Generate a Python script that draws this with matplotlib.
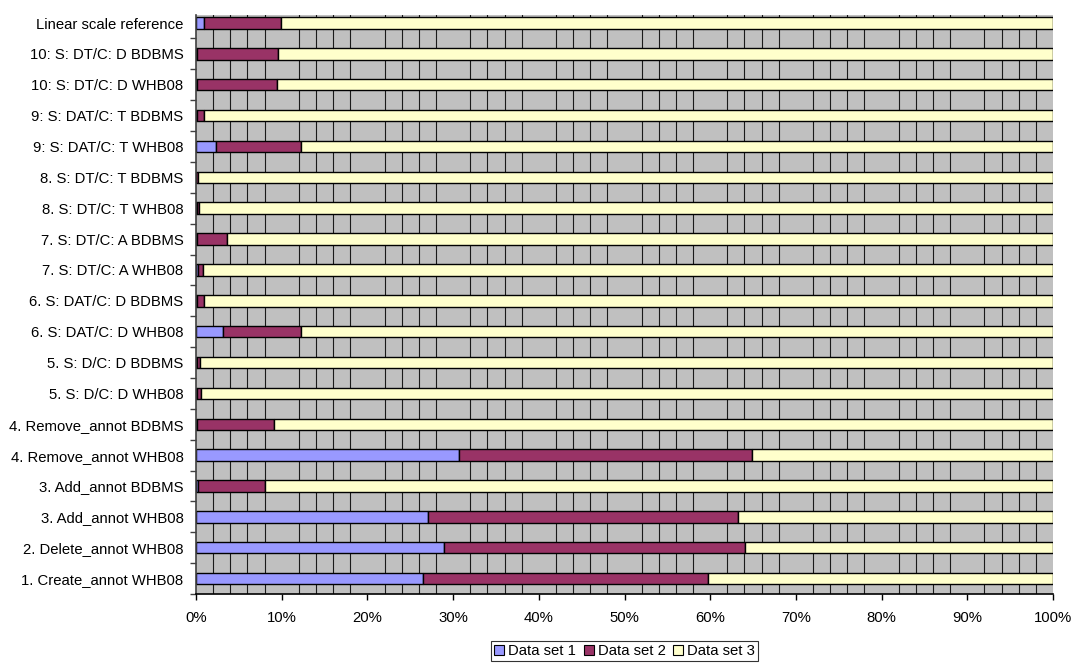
import matplotlib
matplotlib.use("Agg")
import matplotlib.pyplot as plt
import numpy as np
from matplotlib.patches import Patch

categories = [
    "1. Create_annot WHB08",
    "2. Delete_annot WHB08",
    "3. Add_annot WHB08",
    "3. Add_annot BDBMS",
    "4. Remove_annot WHB08",
    "4. Remove_annot BDBMS",
    "5. S: D/C: D WHB08",
    "5. S: D/C: D BDBMS",
    "6. S: DAT/C: D WHB08",
    "6. S: DAT/C: D BDBMS",
    "7. S: DT/C: A WHB08",
    "7. S: DT/C: A BDBMS",
    "8. S: DT/C: T WHB08",
    "8. S: DT/C: T BDBMS",
    "9: S: DAT/C: T WHB08",
    "9: S: DAT/C: T BDBMS",
    "10: S: DT/C: D WHB08",
    "10: S: DT/C: D BDBMS",
    "Linear scale reference",
]
data_set_1 = [26.5, 28.9, 27.1, 0.2, 30.7, 0.15, 0.1, 0.1, 3.2, 0.1, 0.27, 0.1, 0.1, 0.05, 2.3, 0.1, 0.1, 0.1, 1]
data_set_2 = [33.2, 35.2, 36.2, 7.85, 34.2, 8.95, 0.52, 0.4, 9.0, 0.87, 0.58, 3.55, 0.3, 0.22, 9.9, 0.83, 9.4, 9.5, 10]
data_set_3 = [40.3, 35.9, 36.7, 91.95, 35.1, 90.9, 99.38, 99.5, 87.8, 99.03, 99.15, 96.35, 99.6, 99.73, 87.8, 99.07, 90.5, 90.4, 100]
series_names = ["Data set 1", "Data set 2", "Data set 3"]
colors = ["#9999FF", "#993366", "#FFFFCC"]
x_ticks = [0, 10, 20, 30, 40, 50, 60, 70, 80, 90, 100]

plt.rcParams['font.family'] = ['Liberation Sans', 'DejaVu Sans']
FS = 10.7
plt.rcParams['font.size'] = FS

fig = plt.figure(figsize=(10.74, 6.64), dpi=100)
ax = fig.add_axes([196/1074, 1-594/664, (1053-196)/1074, (594-15)/664])
ax.set_facecolor("#C0C0C0")

vals = np.array([data_set_1, data_set_2, data_set_3], dtype=float)
vals = vals / vals.sum(axis=0) * 100
y = np.arange(len(categories))
left = np.zeros(len(categories))
for i in range(3):
    ax.barh(y, vals[i], left=left, height=0.37, color=colors[i],
            edgecolor="black", linewidth=1.0, zorder=3)
    left += vals[i]

ax.set_xlim(0, 100)
ax.set_ylim(-0.5, 18.26)

# vertical gridlines every 2%
ax.set_xticks(np.arange(0, 101, 2), minor=True)
ax.xaxis.grid(True, which='minor', color='#1a1a1a', linewidth=0.8, zorder=1)
ax.set_axisbelow(True)
ax.tick_params(axis='x', which='minor', length=0)

ax.set_xticks(x_ticks)
ax.set_xticklabels([f"{t}%" for t in x_ticks])
ax.tick_params(axis='x', which='major', direction='out', length=4, width=1,
               color='black', pad=8.5, labelsize=FS)

ax.set_yticks(y)
ax.set_yticklabels(categories)
ax.tick_params(axis='y', which='major', length=0, pad=9, labelsize=FS)
ax.set_yticks(np.arange(-0.5, 18.0, 1), minor=True)
ax.tick_params(axis='y', which='minor', direction='out', length=4, width=1, color='#404040')

for s in ['top', 'right']:
    ax.spines[s].set_visible(False)
ax.spines['left'].set_color('#404040')
ax.spines['left'].set_linewidth(1.2)
ax.spines['bottom'].set_color('black')
ax.spines['bottom'].set_linewidth(1.2)
ax.spines['left'].set_zorder(4)
ax.spines['bottom'].set_zorder(4)

handles = [Patch(facecolor=c, edgecolor='black', linewidth=0.8) for c in colors]
leg = fig.legend(handles, series_names, loc='center', bbox_to_anchor=(624.5/1074, 1-651/664),
                 ncol=3, frameon=True, fancybox=False, edgecolor='black',
                 handlelength=0.7, handleheight=0.7, handletextpad=0.25,
                 columnspacing=0.5, borderpad=0.2, fontsize=FS, borderaxespad=0)
leg.get_frame().set_linewidth(0.8)

fig.savefig("out.png", dpi=100)
